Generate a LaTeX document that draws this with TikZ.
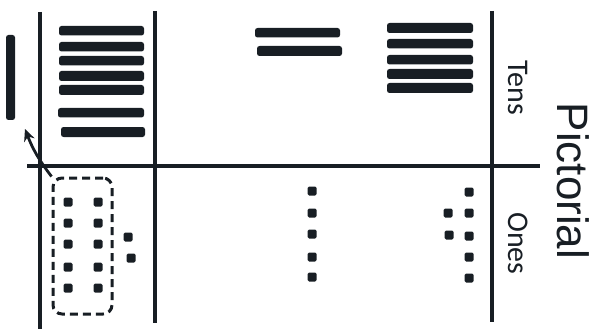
\documentclass[tikz,border=0pt]{standalone}
\usepackage{fontspec}
\setmainfont{Liberation Sans}
\newfontfamily\calib{Carlito}
\usetikzlibrary{arrows.meta}
\definecolor{ink}{RGB}{24,30,36}
\tikzset{
  rule/.style={line width=3.3pt, draw=ink},
  bar/.style={fill=ink, rounded corners=2.5pt},
  dot/.style={fill=ink, rounded corners=1.5pt},
  grpbox/.style={draw=ink, line width=3pt, dash pattern=on 8pt off 5pt, rounded corners=9pt, minimum width=59pt, minimum height=136pt, inner sep=0pt},
  lbl/.style={rotate=-90, anchor=base, text=ink, font=\calib\fontsize{30}{30}\selectfont, inner sep=0pt},
}
\begin{document}
\begin{tikzpicture}[x=1pt,y=-1pt]
\useasboundingbox (0,0) rectangle (595,329);
% grid lines
\draw[rule] (40,12) -- (40,329);
\draw[rule] (155,11) -- (155,323);
\draw[rule] (492,11) -- (492,322);
\draw[rule] (27,166) -- (540,166);
% single ten bar
\fill[bar] (6,35) rectangle (15,120);
% column 1 tens
\foreach \a/\b/\c/\d in {59/26/144/35.5, 59/42/144/51.5, 59/56/144/65.5, 59/71/144/81, 59/85/144/95, 58/108/144/117.5, 61/127/145/137}
  \fill[bar] (\a,\b) rectangle (\c,\d);
% column 2 tens
\foreach \a/\b/\c/\d in {255/28/340/37.5, 257/46/342/56}
  \fill[bar] (\a,\b) rectangle (\c,\d);
% column 3 tens
\foreach \b/\d in {23/33, 39/48.5, 55/64.5, 69/79, 83/93}
  \fill[bar] (387,\b) rectangle (473,\d);
% ones dots
\foreach \x/\y in {68/202, 68/223, 68/244, 68/267, 68/288, 98/202, 98/223, 98/244, 98/267, 98/288, 128/237, 131/258,
  312/191, 312/213, 312/234, 312/257, 312/277,
  469/192, 469/213, 469/236, 469/257, 469/278, 448/213, 449/235}
  \fill[dot] (\x-4.5,\y-4.5) rectangle (\x+4.5,\y+4.5);
% dashed group
\node[grpbox] (grp) at (82.5,246) {};
\coordinate (tip) at (25,129);
\draw[ink, line width=2.8pt, -{Stealth[length=12pt,width=11pt]}] (grp.north west) to[bend left=8] (tip);
% labels
\node[lbl] (tens) at (508,88) {Tens};
\node[lbl] (ones) at (508,243.5) {Ones};
\node[rotate=-90, anchor=base, text=ink, font=\fontsize{44}{44}\selectfont, inner sep=0pt] (pict) at (557,181) {Pictorial};
\end{tikzpicture}
\end{document}
